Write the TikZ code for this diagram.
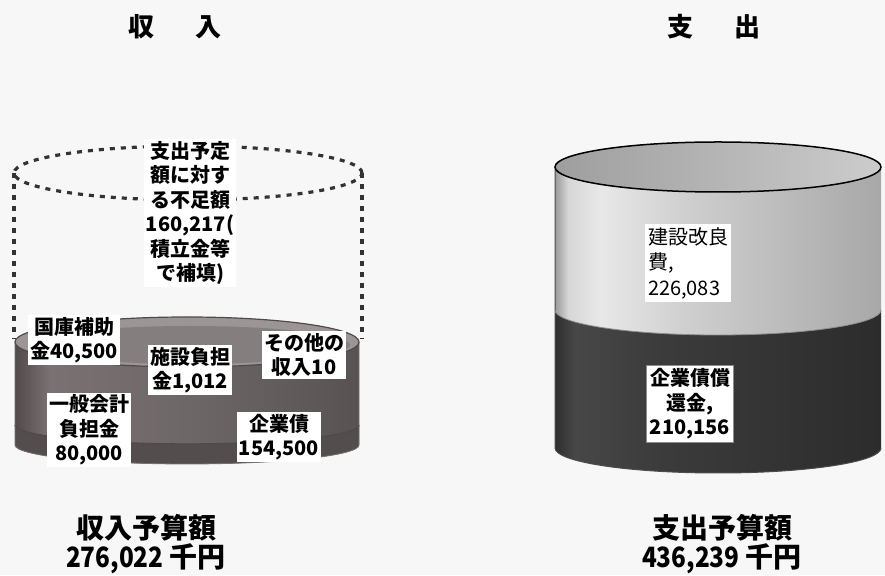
\documentclass[tikz,border=0pt]{standalone}
\usepackage{fontspec}
\usepackage{graphicx}
\newfontfamily\jp{Noto Sans CJK JP}
\definecolor{bg}{HTML}{F7F7F7}
\definecolor{ua}{HTML}{9A9A9A}
\definecolor{ub}{HTML}{D6D6D6}
\definecolor{uc}{HTML}{E8E8E8}
\definecolor{ud}{HTML}{CFCFCF}
\definecolor{ue}{HTML}{A8A8A8}
\definecolor{la}{HTML}{2E2E2E}
\definecolor{lb}{HTML}{474747}
\definecolor{lc}{HTML}{3C3C3C}
\definecolor{ld}{HTML}{2C2C2C}
\definecolor{ma}{HTML}{514A4A}
\definecolor{mb}{HTML}{7A7272}
\definecolor{mc}{HTML}{6E6767}
\definecolor{md}{HTML}{595252}
\pgfdeclarehorizontalshading{upbody}{100bp}{color(0bp)=(ua); color(25bp)=(ua); color(27bp)=(ub); color(32bp)=(uc); color(45bp)=(ud); color(75bp)=(ue); color(100bp)=(ue)}
\pgfdeclarehorizontalshading{lowbody}{100bp}{color(0bp)=(la); color(25bp)=(la); color(28bp)=(lb); color(40bp)=(lc); color(75bp)=(ld); color(100bp)=(ld)}
\pgfdeclarehorizontalshading{leftbody}{100bp}{color(0bp)=(ma); color(25bp)=(ma); color(30bp)=(mb); color(50bp)=(mc); color(75bp)=(md); color(100bp)=(md)}
\tikzset{
  jpfont/.style={font=\jp\bfseries\fontsize{20}{24.5}\selectfont},
  lbl/.style={jpfont, fill=white, align=center, inner sep=2pt},
  title/.style={font=\jp\bfseries\fontsize{26}{30}\selectfont},
  total/.style={font=\jp\bfseries\fontsize{28}{29}\selectfont, align=center},
  dots/.style={draw=black!80, line width=3.2pt, dash pattern=on 5pt off 6pt},
}
\begin{document}
\begin{tikzpicture}[x=1pt,y=1pt]
\useasboundingbox (0,0) rectangle (885,575);
\fill[bg] (0,0) rectangle (885,575);

% ---------- left: dotted part ----------
\draw[dots] (188,402) ellipse [x radius=174, y radius=27];
\draw[dots] (14,402) -- (14,236);
\draw[dots] (362,402) -- (362,236);

% ---------- left: solid cylinder ----------
\shade[shading=leftbody] (15,233) -- (15,130)
  arc[start angle=180, end angle=360, x radius=172, y radius=19]
  -- (359,233) -- cycle;
\fill[black!25!mc] (15,150) arc[start angle=180, end angle=360, x radius=172, y radius=19]
  -- (359,130) arc[start angle=0, end angle=-180, x radius=172, y radius=19] -- cycle;
\draw[ma, line width=1.4pt] (15,150) arc[start angle=180, end angle=360, x radius=172, y radius=19];
\draw[black!55, line width=0.8pt] (15,233) -- (15,130)
  arc[start angle=180, end angle=360, x radius=172, y radius=19] -- (359,233);
\fill[mb!75!white, draw=ma, line width=1.2pt] (187,233) ellipse [x radius=172, y radius=25];
\fill[mc!85!white] (190,230) ellipse [x radius=160, y radius=19];

% ---------- right cylinder ----------
\shade[shading=lowbody] (555,265) -- (555,127)
  arc[start angle=180, end angle=360, x radius=163, y radius=25]
  -- (881,265) -- cycle;
\shade[shading=upbody] (555,408) -- (555,265)
  arc[start angle=180, end angle=360, x radius=163, y radius=25]
  -- (881,408) -- cycle;
\draw[black!70, line width=1pt] (555,408) -- (555,127)
  arc[start angle=180, end angle=360, x radius=163, y radius=25];
\draw[black!45, line width=0.8pt] (555,265)
  arc[start angle=180, end angle=360, x radius=163, y radius=25];
\shade[left color=black!38, right color=black!20, draw=black, line width=1.5pt]
  (718,408) ellipse [x radius=163, y radius=25];

% ---------- labels ----------
\node[lbl] (short) at (190,362) {支出予定\\額に対す\\る不足額\\160,217(\\積立金等\\で補填)};
\node[lbl] (kokko) at (74,235) {国庫補助\\金40,500};
\node[lbl] (shisetsu) at (190,205) {施設負担\\金1,012};
\node[lbl] (sonota) at (304,220) {その他の\\収入10};
\node[lbl] (ippan) at (89,145) {一般会計\\負担金\\80,000};
\node[lbl] (kigyo) at (279,138) {企業債\\154,500};
\node[lbl, font=\jp\fontsize{20}{25.5}\selectfont, align=left, inner sep=3pt] (kensetsu) at (688,312) {建設改良\\費,\\226,083};
\node[lbl, draw=black!45, line width=1pt, inner sep=3pt] (shokan) at (690,171) {企業債償\\還金,\\210,156};

% ---------- titles ----------
\node[title] (tin) at (175,548) {収\hspace{1.6em}入};
\node[title] (tout) at (714,548) {支\hspace{1.6em}出};
\node[total] (totin) at (146,31) {収入予算額\\\scalebox{0.87}[1]{276,022} 千円};
\node[total] (totout) at (722,31) {支出予算額\\\scalebox{0.87}[1]{436,239} 千円};
\end{tikzpicture}
\end{document}
